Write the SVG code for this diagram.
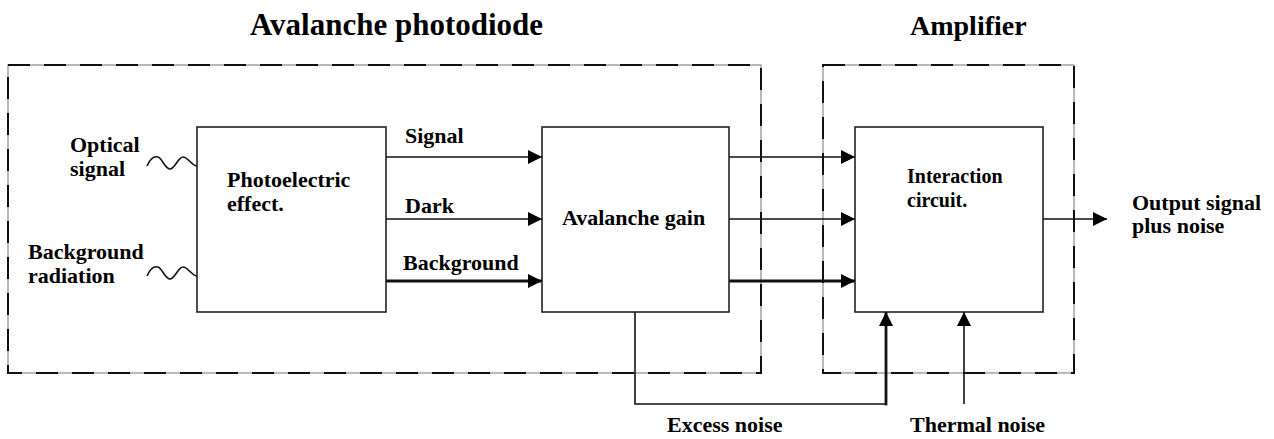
<svg xmlns="http://www.w3.org/2000/svg" width="1274" height="439" viewBox="0 0 1274 439">
<defs>
<style>
text{font-family:"Liberation Serif","Times New Roman",serif;font-weight:bold;fill:#000}
.t{font-size:22px}
.title{font-size:31px}
.small{font-size:20px}
.box{fill:#fff;stroke:#222;stroke-width:1.6}
.dashbg{fill:none;stroke:#8a8a8a;stroke-width:1.2}
.dash{fill:none;stroke:#111;stroke-width:2;stroke-dasharray:22 14}
.ln{fill:none;stroke:#111;stroke-width:1.6}
.thick{fill:none;stroke:#111;stroke-width:2.8}
.wave{fill:none;stroke:#111;stroke-width:1.6}
</style>
<marker id="ah" markerUnits="userSpaceOnUse" markerWidth="14" markerHeight="14" viewBox="0 0 12 12" refX="12" refY="6" orient="auto">
<path d="M0,0 L12,6 L0,12 Z" fill="#000"/>
</marker>
</defs>
<rect width="1274" height="439" fill="#fff"/>

<g id="group-photodiode">
<rect class="dashbg" x="8" y="65" width="753" height="308"/>
<rect class="dash" x="8" y="65" width="753" height="308"/>
<text class="title" x="250" y="35">Avalanche photodiode</text>
</g>
<g id="group-amplifier">
<rect class="dashbg" x="823" y="65" width="251" height="308"/>
<rect class="dash" x="823" y="65" width="251" height="308"/>
<text class="title" x="910" y="35" style="font-size:28px">Amplifier</text>
</g>

<g id="connectors">
<path class="wave" d="M147,166 C150,159 154,156 158,157 C162,158 165,169 170,169 C175,169 178,157 183,157 C188,157 192,166 197,166"/>
<path class="wave" d="M147,276 C150,269 154,266 158,267 C162,268 165,279 170,279 C175,279 178,267 183,267 C188,267 192,276 197,276"/>
<line class="ln" x1="386" y1="157" x2="542" y2="157" marker-end="url(#ah)"/>
<line class="ln" x1="386" y1="219" x2="542" y2="219" marker-end="url(#ah)"/>
<line class="thick" x1="386" y1="281" x2="542" y2="281" marker-end="url(#ah)"/>
<line class="ln" x1="729" y1="157" x2="855" y2="157" marker-end="url(#ah)"/>
<line class="ln" x1="729" y1="219" x2="855" y2="219" marker-end="url(#ah)"/>
<line class="thick" x1="729" y1="281" x2="855" y2="281" marker-end="url(#ah)"/>
<line class="ln" x1="1043" y1="219" x2="1107" y2="219" marker-end="url(#ah)"/>
<polyline class="ln" points="635,312 635,404 886,404"/>
<line class="thick" x1="886" y1="405.4" x2="886" y2="312" marker-end="url(#ah)"/>
<line class="ln" x1="964" y1="404" x2="964" y2="312" marker-end="url(#ah)"/>
<text class="t" x="405" y="143">Signal</text>
<text class="t" x="405" y="213">Dark</text>
<text class="t" x="403" y="270">Background</text>
<text class="t" x="667" y="432">Excess noise</text>
<text class="t" x="910" y="432">Thermal noise</text>
</g>

<g id="node-optical">
<text class="t" x="70" y="152">Optical</text>
<text class="t" x="70" y="176">signal</text>
</g>
<g id="node-background">
<text class="t" x="28" y="259">Background</text>
<text class="t" x="28" y="283">radiation</text>
</g>
<g id="node-photoelectric">
<rect class="box" x="197" y="127" width="189" height="185"/>
<text class="t" x="227" y="187">Photoelectric</text>
<text class="t" x="227" y="211">effect.</text>
</g>
<g id="node-avalanche">
<rect class="box" x="542" y="127" width="187" height="185"/>
<text class="t" x="562" y="225">Avalanche gain</text>
</g>
<g id="node-interaction">
<rect class="box" x="855" y="127" width="188" height="185"/>
<text class="small" x="907" y="183">Interaction</text>
<text class="small" x="907" y="207">circuit.</text>
</g>
<g id="node-output">
<text class="t" x="1132" y="210">Output signal</text>
<text class="t" x="1132" y="233">plus noise</text>
</g>
</svg>
